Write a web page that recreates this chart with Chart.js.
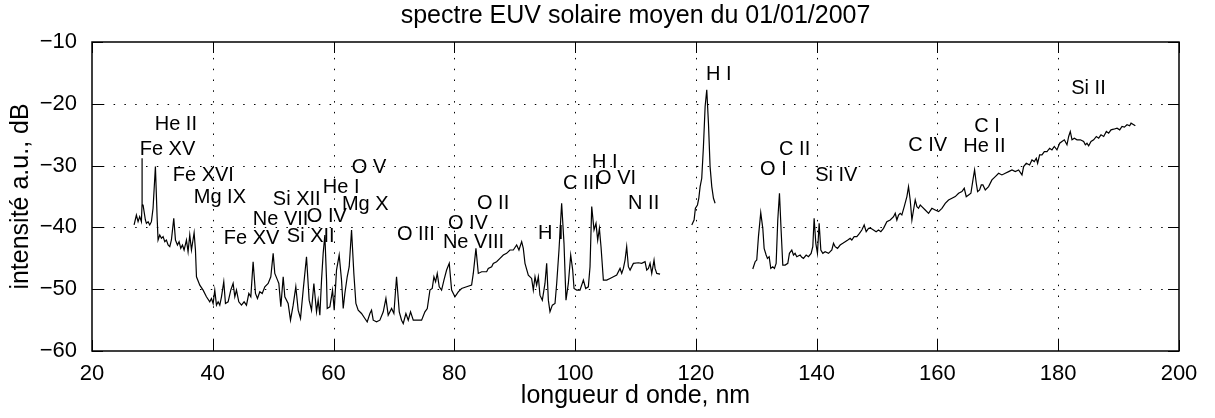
<!DOCTYPE html>
<html><head><meta charset="utf-8">
<script src="https://cdn.jsdelivr.net/npm/chart.js@4.4.1/dist/chart.umd.min.js"></script>
<style>html,body{margin:0;padding:0;background:#fff;overflow:hidden}canvas{display:block}</style>
</head><body>
<canvas id="c" width="1215" height="418" style="width:1215px;height:418px"></canvas>
<script>
const titleText = 'spectre EUV solaire moyen du 01/01/2007';
const xTitle = 'longueur d onde, nm';
const yTitle = 'intensité a.u., dB';
const xTicks = [20, 40, 60, 80, 100, 120, 140, 160, 180, 200];
const yTicks = [-60, -50, -40, -30, -20, -10];

// segment 1 : 27 - 114 nm
const wl1 = [26.97,27.35,27.63,27.9,28.18,28.28,28.29,28.3,28.46,28.84,29.01,29.29,29.56,29.84,30.11,30.5,30.78,30.94,31.22,31.5,31.77,32.05,32.32,32.6,32.88,33.15,33.54,33.82,34.15,34.42,34.7,34.98,35.25,35.64,35.91,36.19,36.47,36.91,37.13,37.3,37.85,38.4,38.95,39.5,39.78,40.06,40.33,40.61,40.89,41.16,41.44,41.82,42.1,42.54,42.98,43.37,43.65,43.92,44.31,44.75,45.19,45.58,45.97,46.3,46.68,47.07,47.4,47.79,48.18,48.62,49.17,49.61,50.0,50.27,50.72,50.94,51.27,51.66,51.93,52.48,52.87,53.31,53.75,54.14,54.53,54.97,55.52,55.96,56.35,56.74,57.18,57.45,57.73,58.01,58.28,58.56,58.84,58.95,59.39,59.83,60.11,60.49,60.93,61.32,61.6,61.87,62.26,62.59,62.98,63.36,63.7,64.08,64.63,65.19,65.57,66.02,66.29,66.57,67.12,67.67,68.23,68.67,69.05,69.61,69.99,70.43,70.88,71.26,71.54,71.98,72.37,72.75,73.2,73.75,74.58,75.13,75.52,75.96,76.34,76.62,76.9,77.17,77.5,77.89,78.28,78.72,79.16,79.55,80.1,80.65,81.2,82.03,82.86,83.14,83.58,83.97,84.52,85.35,85.62,86.18,86.45,87.0,87.56,88.11,88.66,89.21,89.77,90.32,90.7,91.15,91.42,91.7,92.25,92.8,93.08,93.36,93.63,93.91,94.18,94.57,95.01,95.29,95.57,95.84,96.23,96.67,96.95,97.33,97.77,98.16,98.49,98.88,99.27,99.6,99.82,100.26,100.81,101.37,101.75,102.19,102.47,102.75,103.13,103.46,103.74,104.02,104.29,104.68,105.23,105.78,106.34,106.89,107.44,107.72,107.99,108.27,108.54,108.82,109.1,109.65,110.48,111.03,111.58,111.86,112.14,112.41,112.69,113.07,113.24,113.52,114.07];
const db1 = [-39.6,-38.0,-39.07,-38.26,-39.07,-36.4,-28.8,-36.3,-36.4,-38.8,-39.34,-39.07,-39.6,-39.07,-36.91,-30.16,-38.26,-42.04,-41.23,-41.77,-41.5,-42.31,-42.04,-42.85,-43.12,-42.04,-38.53,-42.04,-42.85,-42.31,-43.39,-42.85,-43.66,-42.04,-43.93,-41.23,-43.66,-40.85,-43.66,-47.99,-49.34,-50.15,-51.23,-52.04,-51.5,-52.31,-50.15,-52.58,-52.04,-52.58,-51.23,-48.8,-52.31,-52.04,-50.15,-49.07,-51.23,-50.15,-52.04,-52.58,-52.04,-52.58,-50.69,-51.23,-45.55,-50.69,-51.5,-50.42,-50.69,-49.61,-49.07,-47.99,-44.2,-47.45,-48.53,-49.07,-52.85,-47.99,-51.23,-52.31,-55.01,-52.58,-49.61,-53.39,-54.74,-50.15,-44.74,-51.77,-53.39,-49.07,-53.66,-51.77,-54.2,-48.53,-44.2,-41.23,-48.53,-53.12,-52.85,-50.15,-53.39,-46.9,-44.47,-48.53,-53.12,-50.69,-47.99,-46.36,-40.42,-47.45,-52.31,-53.39,-53.93,-54.74,-55.28,-53.93,-53.39,-55.01,-55.28,-55.01,-53.66,-51.5,-54.2,-53.12,-53.93,-47.99,-53.66,-55.01,-55.55,-53.93,-55.01,-53.66,-55.01,-55.01,-55.01,-53.66,-53.12,-50.15,-49.88,-47.99,-48.8,-47.45,-49.61,-50.15,-48.53,-46.9,-45.82,-50.15,-51.23,-50.42,-49.88,-49.61,-49.34,-47.45,-43.39,-47.45,-47.18,-47.18,-46.64,-46.36,-45.82,-45.55,-45.01,-44.47,-44.2,-43.66,-43.66,-42.85,-43.66,-42.31,-43.39,-45.82,-47.72,-48.26,-50.15,-47.99,-49.34,-47.99,-50.96,-51.77,-49.07,-45.82,-51.77,-53.66,-52.58,-52.31,-49.07,-43.66,-36.1,-42.58,-51.77,-49.07,-44.47,-46.9,-49.88,-50.15,-50.15,-48.53,-49.88,-49.61,-46.36,-36.64,-40.42,-39.34,-42.04,-40.15,-43.12,-48.53,-48.53,-48.26,-47.99,-47.72,-46.64,-47.45,-46.64,-45.28,-43.12,-46.36,-46.9,-45.82,-45.72,-45.82,-45.55,-46.9,-46.64,-45.82,-47.45,-45.28,-46.64,-47.45,-47.55];

// segment 2 : Lyman alpha
const wl2 = [119.32,119.7,119.92,120.26,120.48,120.7,120.97,121.25,121.53,121.8,122.08,122.35,122.63,122.91,123.18];
const db2 = [-39.61,-38.8,-36.91,-36.37,-35.29,-33.4,-32.05,-26.91,-20.43,-17.73,-23.13,-30.16,-33.4,-35.29,-36.1];

// segment 3 : 129 - 193 nm
const wl3 = [129.42,129.81,130.08,130.36,130.74,131.08,131.3,131.63,131.85,132.13,132.4,132.73,133.01,133.29,133.56,133.84,134.11,134.39,134.78,135.22,135.49,135.88,136.16,136.43,136.71,137.26,137.54,137.81,138.26,138.64,139.08,139.36,139.58,139.86,140.13,140.41,140.69,141.02,141.4,141.96,142.51,142.79,143.06,143.45,143.89,144.33,144.72,145.16,145.55,145.82,146.21,146.65,147.09,147.48,147.87,148.2,148.59,148.97,149.41,149.85,150.24,150.63,151.07,151.62,152.18,152.73,153.01,153.28,153.56,153.83,154.11,154.5,154.94,155.21,155.49,155.77,156.04,156.32,156.6,156.87,157.15,157.42,157.98,158.53,159.08,159.63,160.19,160.74,161.29,161.84,162.4,162.95,163.5,164.05,164.44,164.77,165.16,165.54,165.88,166.15,166.43,166.65,166.98,167.26,167.53,167.92,168.47,169.02,169.58,170.13,170.68,171.23,171.79,172.34,172.89,173.44,174.0,174.27,174.71,175.26,175.65,176.04,176.37,176.59,176.92,177.31,177.7,178.14,178.58,178.96,179.35,179.79,180.24,180.62,181.01,181.45,181.73,182.0,182.28,182.67,183.11,183.66,184.21,184.49,184.76,185.04,185.43,185.87,186.31,186.7,187.08,187.53,187.97,188.35,188.74,189.18,189.74,190.18,190.56,190.95,191.39,191.83,192.06,192.5,192.77];
const db3 = [-46.74,-45.55,-45.28,-41.5,-37.61,-40.15,-43.39,-44.47,-45.01,-44.74,-46.63,-46.36,-46.63,-45.82,-38.8,-34.48,-40.42,-46.09,-46.09,-45.82,-44.2,-43.66,-44.47,-44.2,-44.74,-44.47,-44.85,-45.01,-44.47,-44.74,-44.2,-43.12,-38.53,-42.58,-44.2,-39.34,-43.66,-44.2,-43.93,-44.2,-43.66,-42.58,-43.12,-43.39,-42.85,-42.58,-42.31,-42.04,-41.77,-42.04,-41.5,-41.5,-40.96,-40.42,-39.61,-40.69,-40.15,-40.15,-40.42,-40.69,-40.42,-40.69,-40.15,-39.07,-38.8,-38.26,-37.72,-38.8,-37.99,-37.72,-37.99,-36.64,-35.02,-33.4,-35.56,-38.8,-37.18,-35.56,-36.64,-36.91,-36.37,-36.64,-37.18,-37.72,-36.91,-37.18,-37.45,-36.91,-36.1,-35.56,-35.29,-35.02,-34.48,-34.21,-33.67,-35.02,-34.75,-34.48,-32.32,-30.7,-32.86,-34.21,-33.94,-33.13,-33.13,-33.94,-33.4,-32.32,-31.78,-31.24,-31.51,-31.24,-30.97,-30.7,-30.97,-30.7,-31.51,-30.16,-29.62,-29.89,-29.08,-29.35,-28.81,-29.62,-28.27,-28.27,-27.73,-27.73,-27.19,-27.46,-26.91,-27.46,-26.38,-26.1,-25.83,-26.64,-25.29,-24.48,-25.83,-25.56,-25.83,-25.83,-26.1,-26.64,-26.38,-26.81,-26.1,-25.83,-25.29,-25.56,-25.02,-25.29,-24.48,-24.75,-24.21,-24.11,-23.94,-24.21,-23.67,-23.78,-23.4,-23.57,-23.13,-23.4,-23.57];

// line identifications (text, wavelength nm, level dB)
const idText = ['He II','Fe XV','Fe XVI','Mg IX','Si XII','Ne VII','Fe XV','He I','O V','Mg X','O IV','Si XII','O III','O IV','Ne VIII','O II','H I','C III','H I','O VI','N II','H I','O I','C II','Si IV','C IV','C I','He II','Si II'];
const idWl = [30.39,27.9,33.37,36.85,49.94,46.63,41.82,58.23,63.03,61.38,55.58,52.26,70.49,78.94,78.11,83.75,93.86,98.0,102.81,103.47,108.77,121.68,130.63,133.78,139.75,155.15,166.09,164.27,182.16];
const idDb = [-23.4,-27.46,-31.67,-35.23,-35.56,-38.8,-41.72,-33.61,-30.37,-36.37,-38.31,-41.39,-41.07,-39.29,-42.37,-36.21,-40.91,-32.97,-29.56,-32.15,-36.21,-15.3,-30.7,-27.46,-31.67,-26.81,-23.73,-26.97,-17.57];

const FONT = '"Liberation Sans", Arial, Helvetica, sans-serif';
const FS = 20;
const FS_TICK = 22;
const FS_T = 25;

const toPts = (w, d) => w.map((x, i) => ({x: x, y: d[i]}));
const lineDs = (w, d) => ({data: toPts(w, d), borderColor: '#000', borderWidth: 1.2, pointRadius: 0, tension: 0, fill: false});

const decor = {
  id: 'decor',
  beforeDatasetsDraw(chart) {
    const {ctx, chartArea: a, scales: {x, y}} = chart;
    ctx.save();
    ctx.strokeStyle = '#000';
    ctx.lineWidth = 1;
    ctx.setLineDash([1.5, 9.3]);
    xTicks.forEach(v => {
      if (v <= xTicks[0] || v >= xTicks[xTicks.length - 1]) return;
      const px = Math.round(x.getPixelForValue(v)) + 0.5;
      ctx.beginPath(); ctx.moveTo(px, a.bottom); ctx.lineTo(px, a.top); ctx.stroke();
    });
    yTicks.forEach(v => {
      if (v <= yTicks[0] || v >= yTicks[yTicks.length - 1]) return;
      const py = Math.round(y.getPixelForValue(v)) + 0.5;
      ctx.beginPath(); ctx.moveTo(a.left, py); ctx.lineTo(a.right, py); ctx.stroke();
    });
    ctx.restore();
  },
  afterDatasetsDraw(chart) {
    const {ctx, chartArea: a, scales: {x, y}} = chart;
    ctx.save();
    ctx.setLineDash([]);
    ctx.strokeStyle = '#000';
    ctx.lineWidth = 1.5;
    ctx.strokeRect(a.left, a.top, a.right - a.left, a.bottom - a.top);
    ctx.lineWidth = 1;
    const tl = 11;
    xTicks.forEach(v => {
      const px = Math.round(x.getPixelForValue(v)) + 0.5;
      ctx.beginPath(); ctx.moveTo(px, a.bottom); ctx.lineTo(px, a.bottom - tl);
      ctx.moveTo(px, a.top); ctx.lineTo(px, a.top + tl); ctx.stroke();
    });
    yTicks.forEach(v => {
      const py = Math.round(y.getPixelForValue(v)) + 0.5;
      ctx.beginPath(); ctx.moveTo(a.left, py); ctx.lineTo(a.left + tl, py);
      ctx.moveTo(a.right, py); ctx.lineTo(a.right - tl, py); ctx.stroke();
    });
    ctx.fillStyle = '#000';
    ctx.font = FS + 'px ' + FONT;
    ctx.textAlign = 'left';
    ctx.textBaseline = 'middle';
    idText.forEach((t, i) => {
      ctx.fillText(t, x.getPixelForValue(idWl[i]), y.getPixelForValue(idDb[i]));
    });
    const cx = (a.left + a.right) / 2;
    ctx.font = FS_T + 'px ' + FONT;
    ctx.textAlign = 'center';
    ctx.fillText(titleText, cx, 16);
    ctx.fillText(xTitle, cx, 396);
    ctx.translate(21, (a.top + a.bottom) / 2);
    ctx.rotate(-Math.PI / 2);
    ctx.fillText(yTitle, 0, 0);
    ctx.restore();
  }
};

new Chart(document.getElementById('c'), {
  type: 'line',
  data: {datasets: [lineDs(wl1, db1), lineDs(wl2, db2), lineDs(wl3, db3)]},
  options: {
    responsive: false,
    devicePixelRatio: 1,
    animation: false,
    events: [],
    layout: {padding: {left: 0, top: 42, right: 36, bottom: 0}},
    plugins: {legend: {display: false}, title: {display: false}, tooltip: {enabled: false}},
    scales: {
      x: {
        type: 'linear', min: 20, max: 200,
        afterBuildTicks: s => { s.ticks = xTicks.map(v => ({value: v})); },
        ticks: {color: '#000', font: {size: FS_TICK, family: FONT}, padding: 2, maxRotation: 0, autoSkip: false, callback: v => String(v)},
        grid: {display: false}, border: {display: false},
        afterFit: s => { s.height = 67; }
      },
      y: {
        type: 'linear', min: -60, max: -10,
        afterBuildTicks: s => { s.ticks = yTicks.map(v => ({value: v})); },
        ticks: {color: '#000', font: {size: FS_TICK, family: FONT}, padding: 7, autoSkip: false, callback: v => (v < 0 ? '\u2212' + Math.abs(v) : String(v))},
        grid: {display: false}, border: {display: false},
        afterFit: s => { s.width = 92; }
      }
    }
  },
  plugins: [decor]
});
</script>
</body></html>
